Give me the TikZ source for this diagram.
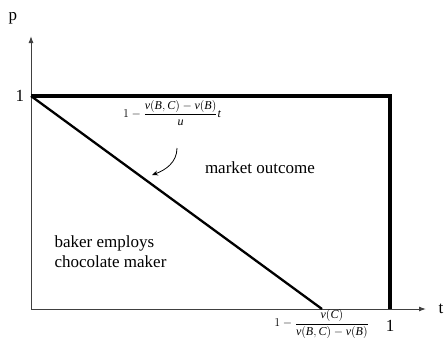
\documentclass[tikz,border=0pt]{standalone}
\usepackage{amsmath}
\usepackage{fontspec}
\setmainfont{Liberation Serif}
\usetikzlibrary{arrows,arrows.meta}
\tikzset{>=latex}
\newcommand{\mv}[1]{\textit{#1}}
\tikzset{
    axis/.style={draw=black!75, line width=1pt, ->, >={Latex[length=7pt,width=5pt]}},
    bound/.style={line width=3.3pt},
    label/.style={font=\fontsize{17}{20}\selectfont},
    small/.style={font=\fontsize{12}{13}\selectfont, inner sep=0pt}
}

\begin{document}
\begin{tikzpicture}[x=1pt, y=-1pt]
    \useasboundingbox (0,0) rectangle (446,340);
    % axes
    \coordinate (o) at (31,309);
    \coordinate (ptop) at (31,36);
    \coordinate (tend) at (426,309);
    \draw[axis] (o) -- (ptop);
    \draw[axis] (o) -- (tend);
    \node[label] (p) at (13,18) {p};
    \node[label] (t) at (441,309) {t};

    % corner points
    \coordinate (a) at (31,96);
    \coordinate (b) at (390,96);
    \coordinate (c) at (390,309);
    \coordinate (d) at (322,309);
    \node[label] (one) at (20,96) {1};
    \node[label] (onet) at (390,326) {1};

    \draw[bound] (a) -- (b) -- (c);
    \draw[line width=2.3pt] (a) -- (d);

    % labels
    \node[small, anchor=east] (frac) at (369,324)
        {$1-\dfrac{\mv{v}(\mv{C})}{\mv{v}(\mv{B},\mv{C})-\mv{v}(\mv{B})}$};
    \node[small] (line) at (172,113)
        {$1-\dfrac{\mv{v}(\mv{B},\mv{C})-\mv{v}(\mv{B})}{\mv{u}}\mv{t}$};
    \coordinate (tip) at (152,175);
    \draw[->, >={Stealth[length=6pt,width=5pt]}, thick] (177,148) to[out=-90, in=20] (tip);

    \node[label] (market) at (260,168) {market outcome};
    \node[label, align=left, anchor=north west] (baker) at (51,232) {baker employs\\chocolate maker};
\end{tikzpicture}
\end{document}
